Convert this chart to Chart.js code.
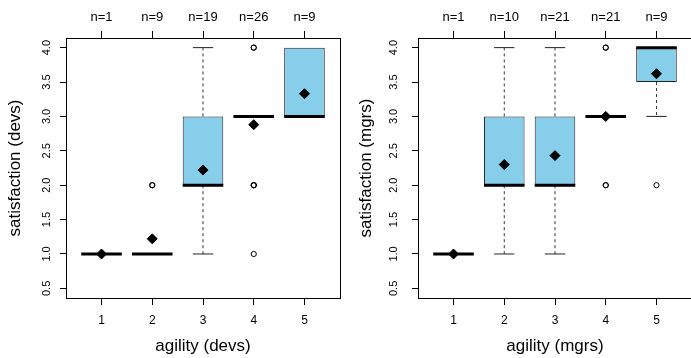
<!DOCTYPE html>
<html>
<head>
<meta charset="utf-8">
<script src="https://cdn.jsdelivr.net/npm/chart.js@4.4.0/dist/chart.umd.min.js"></script>
<style>
html, body { margin: 0; padding: 0; background: #fff; overflow: hidden; }
#wrap { position: relative; width: 691px; height: 358px; overflow: hidden; }
#c1 { position: absolute; left: 0; top: 0; }
#c2 { position: absolute; left: 345px; top: 0; }
</style>
</head>
<body>
<div id="wrap">
<canvas id="c1" width="345" height="358"></canvas>
<canvas id="c2" width="350" height="358"></canvas>
</div>
<script>
var groups = [1, 2, 3, 4, 5];
var yTicks = [0.5, 1.0, 1.5, 2.0, 2.5, 3.0, 3.5, 4.0];

// devs
var devsN = [1, 9, 19, 26, 9];
var devsMin = [1, 1, 1, 3, 3];
var devsQ1 = [1, 1, 2, 3, 3];
var devsMed = [1, 1, 2, 3, 3];
var devsQ3 = [1, 1, 3, 3, 4];
var devsMax = [1, 1, 4, 3, 4];
var devsMean = [1.0, 1.22, 2.22, 2.88, 3.33];
var devsOut = [[], [2, 2], [], [4, 4, 2, 2, 2, 1], []];

// mgrs
var mgrsN = [1, 10, 21, 21, 9];
var mgrsMin = [1, 1, 1, 3, 3];
var mgrsQ1 = [1, 2, 2, 3, 3.5];
var mgrsMed = [1, 2, 2, 3, 4];
var mgrsQ3 = [1, 3, 3, 3, 4];
var mgrsMax = [1, 4, 4, 3, 4];
var mgrsMean = [1.0, 2.3, 2.43, 3.0, 3.62];
var mgrsOut = [[], [], [], [4, 4, 2, 2], [2]];

var FONT = 'Liberation Sans, Arial, Helvetica, sans-serif';
var boxHalf = 0.4, capHalf = 0.2;
var GAP = {x: null, y: null};

function makeChart(id, n, mn, q1, med, q3, mx, mean, out, xTitle, yTitle, lay) {
    var boxes = [], medians = [], caps = [], whiskers = [], means = [], outs = [];
    groups.forEach(function (g, i) {
        boxes.push({x: g, y: [q1[i], q3[i]]});
        medians.push({x: g - boxHalf, y: med[i]}, {x: g + boxHalf, y: med[i]}, GAP);
        if (mx[i] > q3[i]) {
            whiskers.push({x: g, y: q3[i]}, {x: g, y: mx[i]}, GAP);
            caps.push({x: g - capHalf, y: mx[i]}, {x: g + capHalf, y: mx[i]}, GAP);
        }
        if (mn[i] < q1[i]) {
            whiskers.push({x: g, y: q1[i]}, {x: g, y: mn[i]}, GAP);
            caps.push({x: g - capHalf, y: mn[i]}, {x: g + capHalf, y: mn[i]}, GAP);
        }
        means.push({x: g, y: mean[i]});
        out[i].forEach(function (v) { outs.push({x: g, y: v}); });
    });

    var xTicks = function (s) { s.ticks = groups.map(function (v) { return {value: v}; }); };

    return new Chart(document.getElementById(id), {
        type: 'bar',
        data: {
            datasets: [
                {type: 'scatter', data: means, pointStyle: 'rectRot', pointRadius: 5,
                    backgroundColor: '#000', borderColor: '#000', borderWidth: 1, order: 0},
                {type: 'scatter', data: outs, pointStyle: 'circle', pointRadius: 2.6,
                    backgroundColor: 'rgba(0,0,0,0)', borderColor: '#000', borderWidth: 1, order: 1},
                {type: 'line', data: medians, borderColor: '#000', borderWidth: 3, borderCapStyle: 'butt',
                    pointRadius: 0, spanGaps: false, order: 2},
                {type: 'line', data: caps, borderColor: '#222', borderWidth: 1,
                    pointRadius: 0, spanGaps: false, order: 3},
                {type: 'line', data: whiskers, borderColor: '#333', borderWidth: 1, borderDash: [3, 3],
                    pointRadius: 0, spanGaps: false, order: 4},
                {type: 'bar', data: boxes, backgroundColor: '#87CEEB', borderColor: '#222', borderWidth: 1,
                    borderSkipped: false, categoryPercentage: 1, barPercentage: 0.8, order: 5}
            ]
        },
        options: {
            responsive: false,
            animation: false,
            events: [],
            layout: {autoPadding: false, padding: {left: 0, right: lay.padRight, top: 0, bottom: 0}},
            plugins: {legend: {display: false}, tooltip: {enabled: false}},
            scales: {
                x: {
                    type: 'linear', position: 'bottom', min: 0.3, max: 5.7, offset: false,
                    afterBuildTicks: xTicks,
                    afterFit: function (s) { s.height = 60; },
                    grid: {drawOnChartArea: false, offset: false, tickLength: 7, color: '#000'},
                    border: {display: true, color: '#000', width: 1},
                    ticks: {font: {family: FONT, size: 12}, color: '#000', padding: 8, autoSkip: false,
                        maxRotation: 0, callback: function (v) { return String(v); }},
                    title: {display: true, text: xTitle, color: '#000', font: {family: FONT, size: 17},
                        padding: {top: 0, bottom: 1}}
                },
                x2: {
                    type: 'linear', position: 'top', min: 0.3, max: 5.7, offset: false,
                    afterBuildTicks: xTicks,
                    afterFit: function (s) { s.height = 38; },
                    grid: {drawOnChartArea: false, offset: false, tickLength: 7, color: '#000'},
                    border: {display: true, color: '#000', width: 1},
                    ticks: {font: {family: FONT, size: 13}, color: '#000', padding: 6, autoSkip: false,
                        maxRotation: 0, callback: function (v) { return 'n=' + n[groups.indexOf(v)]; }}
                },
                y: {
                    type: 'linear', position: 'left', min: 0.36, max: 4.14,
                    afterBuildTicks: function (s) { s.ticks = yTicks.map(function (v) { return {value: v}; }); },
                    afterFit: function (s) { s.width = lay.yWidth; },
                    grid: {drawOnChartArea: false, tickLength: 6, color: '#000'},
                    border: {display: true, color: '#000', width: 1},
                    ticks: {font: {family: FONT, size: 11}, color: '#000', padding: lay.tickPad, autoSkip: false,
                        minRotation: 90, maxRotation: 90, crossAlign: 'center',
                        callback: function (v) { return v.toFixed(1); }},
                    title: {display: true, text: yTitle, color: '#000', font: {family: FONT, size: 17},
                        padding: {top: lay.titlePad, bottom: 0}}
                },
                y2: {
                    type: 'linear', position: 'right', min: 0.36, max: 4.14,
                    afterFit: function (s) { s.width = 0; },
                    grid: {drawOnChartArea: false, drawTicks: false},
                    border: {display: true, color: '#000', width: 1},
                    ticks: {display: false}
                }
            }
        }
    });
}

makeChart('c1', devsN, devsMin, devsQ1, devsMed, devsQ3, devsMax, devsMean, devsOut,
    'agility (devs)', 'satisfaction (devs)', {padRight: 5, yWidth: 66, tickPad: 5, titlePad: 5});
makeChart('c2', mgrsN, mgrsMin, mgrsQ1, mgrsMed, mgrsQ3, mgrsMax, mgrsMean, mgrsOut,
    'agility (mgrs)', 'satisfaction (mgrs)', {padRight: 3, yWidth: 73, tickPad: 10, titlePad: 11});
</script>
</body>
</html>
